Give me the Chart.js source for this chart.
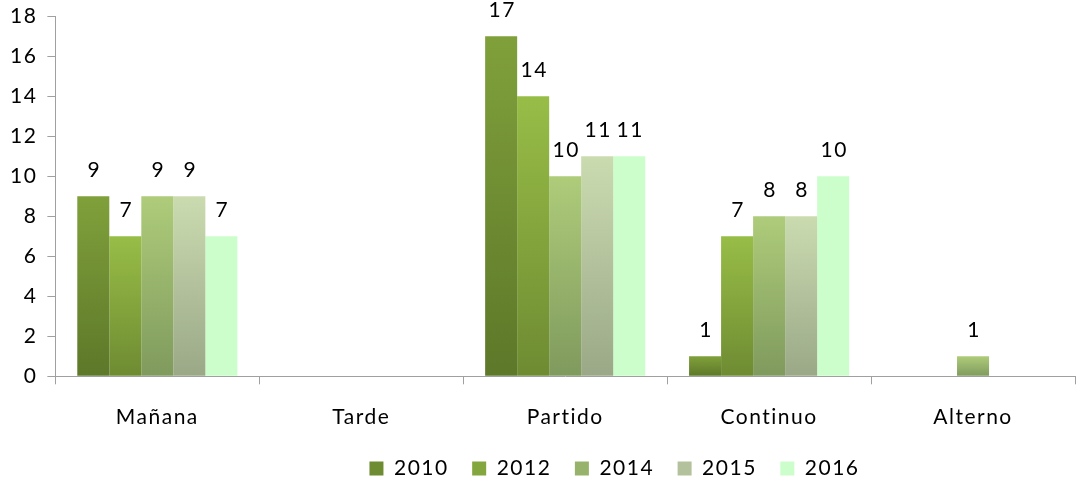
<!DOCTYPE html>
<html><head><meta charset="utf-8">
<script src="https://cdn.jsdelivr.net/npm/chart.js@4.4.0/dist/chart.umd.min.js"></script>
<style>html,body{margin:0;padding:0;background:#fff;overflow:hidden}canvas{display:block}</style>
</head><body>
<canvas id="c" width="1080" height="483"></canvas>
<script>
const categories = ['Mañana', 'Tarde', 'Partido', 'Continuo', 'Alterno'];
const seriesNames = ['2010', '2012', '2014', '2015', '2016'];
const v2010 = [9, 0, 17, 1, 0];
const v2012 = [7, 0, 14, 7, 0];
const v2014 = [9, 0, 10, 8, 1];
const v2015 = [9, 0, 11, 8, 0];
const v2016 = [7, 0, 11, 10, 0];
const yTicks = [0, 2, 4, 6, 8, 10, 12, 14, 16, 18];

const tops = ['#80a03b', '#98bd47', '#aecc7a', '#cbdbb0', '#ccfecc'];
const bottoms = ['#5d7829', '#6e8b32', '#7f9a5d', '#9aa887', '#ccfecc'];
const mids = ['#6e8c32', '#84a63e', '#97b36b', '#b3c29c', '#ccfecc'];
const values = [v2010, v2012, v2014, v2015, v2016];
const FONT = 'Lato, "Open Sans", sans-serif';

function grad(i) {
  return function(ctx) {
    const chart = ctx.chart;
    if (ctx.type !== 'data' || !chart.chartArea) return mids[i];
    const ys = chart.scales.y;
    const v = ctx.raw || 0;
    const top = ys.getPixelForValue(v), base = ys.getPixelForValue(0);
    if (base - top < 1) return tops[i];
    const g = chart.ctx.createLinearGradient(0, top, 0, base);
    g.addColorStop(0, tops[i]);
    g.addColorStop(1, bottoms[i]);
    return g;
  };
}

const spacing = {
  id: 'spacing',
  beforeUpdate(chart) { chart.ctx.letterSpacing = '1.5px'; },
  beforeDraw(chart) { chart.ctx.letterSpacing = '1.5px'; },
  afterUpdate(chart) {
    const lg = chart.legend;
    if (lg) { lg.left += 77; lg.right += 77; lg.top -= 15; lg.bottom -= 15; }
  }
};

const valueLabels = {
  id: 'valueLabels',
  afterDatasetsDraw(chart) {
    const c = chart.ctx;
    c.save();
    c.font = '21px ' + FONT;
    c.fillStyle = '#000';
    c.textAlign = 'center';
    c.textBaseline = 'middle';
    chart.data.datasets.forEach((ds, i) => {
      const meta = chart.getDatasetMeta(i);
      meta.data.forEach((bar, j) => {
        const v = ds.data[j];
        if (!v) return;
        c.fillText(String(v), bar.x + 1, bar.y - 26);
      });
    });
    c.restore();
  }
};

new Chart(document.getElementById('c'), {
  type: 'bar',
  data: {
    labels: categories,
    datasets: seriesNames.map((n, i) => ({
      label: n,
      data: values[i],
      backgroundColor: grad(i),
      borderWidth: 0,
      categoryPercentage: 0.785,
      barPercentage: 1.0
    }))
  },
  options: {
    responsive: false,
    animation: false,
    layout: { padding: { left: 0, right: 5, top: 11, bottom: -21 } },
    plugins: {
      legend: {
        position: 'bottom',
        labels: {
          font: { family: FONT, size: 21 },
          color: '#000',
          boxWidth: 14, boxHeight: 14,
          padding: 23.5,
          generateLabels(chart) {
            return chart.data.datasets.map((ds, i) => ({
              text: ds.label, fillStyle: mids[i], strokeStyle: mids[i], lineWidth: 0, datasetIndex: i, hidden: false
            }));
          }
        }
      },
      tooltip: { enabled: false }
    },
    scales: {
      x: {
        grid: { drawOnChartArea: false, tickLength: 8, color: '#a0a0a0', offset: true },
        border: { color: '#a0a0a0' },
        ticks: { font: { family: FONT, size: 21 }, color: '#000', padding: 20 }
      },
      y: {
        min: 0, max: 18,
        afterBuildTicks(s) { s.ticks = yTicks.map(v => ({ value: v })); },
        grid: { drawOnChartArea: false, tickLength: 8, color: '#a0a0a0' },
        border: { color: '#a0a0a0' },
        ticks: { font: { family: FONT, size: 21, lineHeight: 0.6 }, color: '#000', padding: 10 }
      }
    }
  },
  plugins: [spacing, valueLabels]
});
</script>
</body></html>
